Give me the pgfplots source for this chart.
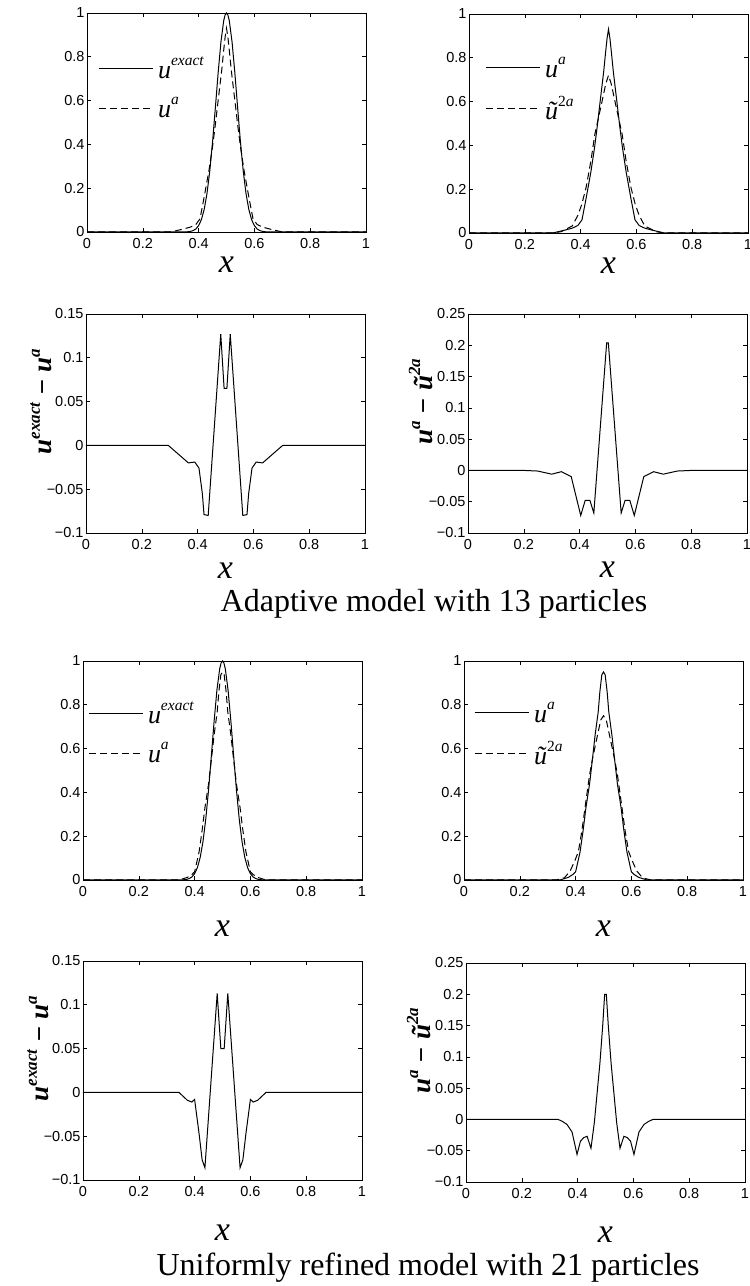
\documentclass[border=0pt]{standalone}
\usepackage{fontspec}
\setmainfont{Liberation Serif}
\newfontfamily\sansf{Liberation Sans}
\usepackage{pgfplots}
\pgfplotsset{compat=1.18}
\newcommand\tickfont{\fontsize{14.5}{14.5}\selectfont\sansf}
\newcommand\xlfont{\fontsize{34}{34}\selectfont\itshape}
\newcommand\legfont{\fontsize{26}{26}\selectfont\itshape}
\newcommand\supf{\fontsize{15.5}{15.5}\selectfont}
\newcommand\ylfont{\fontsize{27}{27}\selectfont\bfseries\itshape}
\newcommand\ysupf{\fontsize{17}{17}\selectfont\bfseries\itshape}
\newcommand\capfont{\fontsize{32}{32}\selectfont}
\newcommand\sups[1]{\raisebox{13pt}{\supf #1}}
\newcommand\ysups[1]{\raisebox{12pt}{\ysupf #1}}

\pgfplotsset{
 panel/.style={
  scale only axis, width=279pt, height=219pt,
  xmin=0, xmax=1,
  xtick={0,0.2,0.4,0.6,0.8,1},
  xticklabels={0,0.2,0.4,0.6,0.8,1},
  tick align=inside, major tick length=4pt,
  tick style={black, line width=0.6pt},
  axis line style={black, line width=0.9pt},
  ticklabel style={font=\tickfont},
  xticklabel style={yshift=-3pt},
  yticklabel style={xshift=1pt},
  xlabel={\xlfont x},
  xlabel style={at={(axis description cs:0.5,0)}, anchor=base, yshift=-#1},
 },
 sl/.style={black, solid, line width=1pt, mark=none},
 dl/.style={black, line width=1pt, mark=none, dash pattern=on 7pt off 4pt},
 unitpanel/.style={ymin=0,ymax=1, ytick={0,0.2,0.4,0.6,0.8,1}, yticklabels={0,0.2,0.4,0.6,0.8,1}},
 errA/.style={ymin=-0.1,ymax=0.15, ytick={-0.1,-0.05,0,0.05,0.1,0.15}, yticklabels={−0.1,−0.05,0,0.05,0.1,0.15},
   ylabel style={at={(axis description cs:-0.16,0.6)}, anchor=center}},
 errB/.style={ymin=-0.1,ymax=0.25, ytick={-0.1,-0.05,0,0.05,0.1,0.15,0.2,0.25}, yticklabels={−0.1,−0.05,0,0.05,0.1,0.15,0.2,0.25},
   ylabel style={at={(axis description cs:-0.17,0.6)}, anchor=center}},
 leg/.style 2 args={
   legend style={draw=none, fill=none, at={(axis description cs:0,1)}, anchor=north west,
     xshift=#1, yshift=#2, inner sep=0pt, outer sep=0pt, row sep=17pt,
     nodes={inner sep=0pt, outer sep=0pt}, font=\legfont,
     /tikz/every odd column/.append style={column sep=5pt}},
   legend cell align=left,
   legend image code/.code={\draw[##1] (0pt,0pt) -- (54pt,0pt);}},
}

\begin{document}
\begin{tikzpicture}
\useasboundingbox (0,0) rectangle (750pt,1286pt);

% ---------- Panel 1 ----------
\begin{axis}[panel=41pt, unitpanel, leg={11pt}{-44pt}, at={(87pt,1273pt)}, anchor=north west]
\addplot[sl] coordinates {(0,0) (0.3,0) (0.34,0.0003) (0.36,0.001) (0.37,0.0025) (0.38,0.006) (0.39,0.0135) (0.40,0.029) (0.41,0.056) (0.42,0.103) (0.43,0.175) (0.44,0.278) (0.45,0.411) (0.46,0.566) (0.47,0.726) (0.48,0.867) (0.49,0.965) (0.495,0.991) (0.50,1.0) (0.505,0.991) (0.51,0.965) (0.52,0.867) (0.53,0.726) (0.54,0.566) (0.55,0.411) (0.56,0.278) (0.57,0.175) (0.58,0.103) (0.59,0.056) (0.60,0.029) (0.61,0.0135) (0.62,0.006) (0.63,0.0025) (0.64,0.001) (0.66,0.0003) (0.7,0) (1,0)};
\addlegendentry{u\sups{exact}}
\addplot[dl] coordinates {(0,0) (0.3,0) (0.34,0.012) (0.37,0.022) (0.39,0.034) (0.405,0.06) (0.42,0.16) (0.437,0.28) (0.45,0.39) (0.46,0.49) (0.47,0.6) (0.483,0.74) (0.49,0.83) (0.495,0.89) (0.5,0.93) (0.505,0.89) (0.51,0.83) (0.517,0.74) (0.53,0.6) (0.54,0.49) (0.55,0.39) (0.563,0.28) (0.58,0.16) (0.595,0.06) (0.61,0.034) (0.63,0.022) (0.66,0.012) (0.7,0) (1,0)};
\addlegendentry{u\sups{a}}
\end{axis}

% ---------- Panel 2 ----------
\begin{axis}[panel=41pt, unitpanel, leg={16pt}{-43pt}, at={(469pt,1272pt)}, anchor=north west]
\addplot[sl] coordinates {(0,0) (0.3,0) (0.34,0.012) (0.37,0.022) (0.39,0.034) (0.405,0.06) (0.42,0.16) (0.437,0.28) (0.45,0.39) (0.46,0.49) (0.47,0.6) (0.483,0.74) (0.49,0.83) (0.495,0.89) (0.5,0.93) (0.505,0.89) (0.51,0.83) (0.517,0.74) (0.53,0.6) (0.54,0.49) (0.55,0.39) (0.563,0.28) (0.58,0.16) (0.595,0.06) (0.61,0.034) (0.63,0.022) (0.66,0.012) (0.7,0) (1,0)};
\addlegendentry{u\sups{a}}
\addplot[dl] coordinates {(0,0) (0.3,0) (0.33,0.006) (0.37,0.032) (0.39,0.08) (0.404,0.13) (0.42,0.21) (0.437,0.33) (0.451,0.45) (0.475,0.59) (0.49,0.68) (0.5,0.72) (0.51,0.68) (0.525,0.59) (0.549,0.45) (0.563,0.33) (0.58,0.21) (0.596,0.13) (0.61,0.08) (0.63,0.032) (0.67,0.006) (0.7,0) (1,0)};
\addlegendentry{ũ\sups{\upshape 2\itshape a}}
\end{axis}

% ---------- Panel 3 ----------
\begin{axis}[panel=46pt, errA, at={(86pt,972pt)}, anchor=north west,
  ylabel={\ylfont u\ysups{exact} − u\ysups{a}}]
\addplot[sl] coordinates {(0,0) (0.295,0) (0.367,-0.02) (0.39,-0.019) (0.405,-0.026) (0.417,-0.055) (0.423,-0.079) (0.438,-0.08) (0.483,0.127) (0.495,0.065) (0.505,0.065) (0.517,0.127) (0.562,-0.08) (0.577,-0.079) (0.583,-0.055) (0.595,-0.026) (0.61,-0.019) (0.633,-0.02) (0.705,0) (1,0)};
\end{axis}

% ---------- Panel 4 ----------
\begin{axis}[panel=45pt, errB, at={(468pt,972pt)}, anchor=north west,
  ylabel={\ylfont u\ysups{a} − ũ\ysups{2a}}]
\addplot[sl] coordinates {(0,0) (0.2,0) (0.25,-0.001) (0.3,-0.006) (0.335,-0.002) (0.37,-0.01) (0.404,-0.072) (0.42,-0.048) (0.437,-0.048) (0.451,-0.068) (0.497,0.204) (0.503,0.204) (0.549,-0.068) (0.563,-0.048) (0.58,-0.048) (0.596,-0.072) (0.63,-0.01) (0.665,-0.002) (0.70,-0.006) (0.75,-0.001) (0.8,0) (1,0)};
\end{axis}

\node[font=\capfont, anchor=base] at (434pt,674pt) {Adaptive model with 13 particles};

% ---------- Panel 5 ----------
\begin{axis}[panel=57pt, unitpanel, leg={5pt}{-41pt}, at={(83pt,625pt)}, anchor=north west]
\addplot[sl] coordinates {(0,0) (0.3,0) (0.34,0.0003) (0.36,0.001) (0.37,0.0025) (0.38,0.006) (0.39,0.0135) (0.40,0.029) (0.41,0.056) (0.42,0.103) (0.43,0.175) (0.44,0.278) (0.45,0.411) (0.46,0.566) (0.47,0.726) (0.48,0.867) (0.49,0.965) (0.495,0.991) (0.50,1.0) (0.505,0.991) (0.51,0.965) (0.52,0.867) (0.53,0.726) (0.54,0.566) (0.55,0.411) (0.56,0.278) (0.57,0.175) (0.58,0.103) (0.59,0.056) (0.60,0.029) (0.61,0.0135) (0.62,0.006) (0.63,0.0025) (0.64,0.001) (0.66,0.0003) (0.7,0) (1,0)};
\addlegendentry{u\sups{exact}}
\addplot[dl] coordinates {(0,0) (0.344,0) (0.374,0.012) (0.39,0.025) (0.40,0.037) (0.416,0.128) (0.427,0.227) (0.437,0.33) (0.45,0.438) (0.46,0.548) (0.47,0.663) (0.481,0.767) (0.487,0.86) (0.494,0.937) (0.5,0.95) (0.506,0.937) (0.513,0.86) (0.519,0.767) (0.53,0.663) (0.54,0.548) (0.55,0.438) (0.563,0.33) (0.573,0.227) (0.584,0.128) (0.60,0.037) (0.61,0.025) (0.626,0.012) (0.656,0) (1,0)};
\addlegendentry{u\sups{a}}
\end{axis}

% ---------- Panel 6 ----------
\begin{axis}[panel=57pt, unitpanel, leg={10pt}{-41pt}, at={(464pt,625pt)}, anchor=north west]
\addplot[sl] coordinates {(0,0) (0.344,0) (0.374,0.012) (0.39,0.025) (0.40,0.037) (0.416,0.128) (0.427,0.227) (0.437,0.33) (0.45,0.438) (0.46,0.548) (0.47,0.663) (0.481,0.767) (0.487,0.86) (0.494,0.937) (0.5,0.95) (0.506,0.937) (0.513,0.86) (0.519,0.767) (0.53,0.663) (0.54,0.548) (0.55,0.438) (0.563,0.33) (0.573,0.227) (0.584,0.128) (0.60,0.037) (0.61,0.025) (0.626,0.012) (0.656,0) (1,0)};
\addlegendentry{u\sups{a}}
\addplot[dl] coordinates {(0,0) (0.33,0) (0.36,0.01) (0.38,0.04) (0.398,0.09) (0.41,0.13) (0.422,0.22) (0.437,0.36) (0.45,0.48) (0.46,0.55) (0.48,0.67) (0.49,0.73) (0.5,0.75) (0.51,0.73) (0.52,0.67) (0.54,0.55) (0.55,0.48) (0.563,0.36) (0.578,0.22) (0.59,0.13) (0.602,0.09) (0.62,0.04) (0.64,0.01) (0.67,0) (1,0)};
\addlegendentry{ũ\sups{\upshape 2\itshape a}}
\end{axis}

% ---------- Panel 7 ----------
\begin{axis}[panel=61pt, errA, at={(83pt,325pt)}, anchor=north west,
  ylabel={\ylfont u\ysups{exact} − u\ysups{a}}]
\addplot[sl] coordinates {(0,0) (0.344,0) (0.374,-0.009) (0.39,-0.011) (0.40,-0.008) (0.416,-0.047) (0.427,-0.077) (0.437,-0.086) (0.481,0.113) (0.494,0.05) (0.506,0.05) (0.519,0.113) (0.563,-0.086) (0.573,-0.077) (0.584,-0.047) (0.60,-0.008) (0.61,-0.011) (0.626,-0.009) (0.656,0) (1,0)};
\end{axis}

% ---------- Panel 8 ----------
\begin{axis}[panel=61pt, errB, at={(466pt,323pt)}, anchor=north west,
  ylabel={\ylfont u\ysups{a} − ũ\ysups{2a}}]
\addplot[sl] coordinates {(0,0) (0.33,0) (0.345,-0.003) (0.362,-0.008) (0.38,-0.02) (0.398,-0.056) (0.41,-0.035) (0.422,-0.029) (0.434,-0.027) (0.448,-0.046) (0.46,-0.005) (0.48,0.09) (0.49,0.15) (0.497,0.2) (0.503,0.2) (0.51,0.15) (0.52,0.09) (0.54,-0.005) (0.552,-0.046) (0.566,-0.027) (0.578,-0.029) (0.59,-0.035) (0.602,-0.056) (0.62,-0.02) (0.638,-0.008) (0.655,-0.003) (0.67,0) (1,0)};
\end{axis}

\node[font=\capfont, anchor=base] at (428pt,10pt) {Uniformly refined model with 21 particles};
\end{tikzpicture}
\end{document}
